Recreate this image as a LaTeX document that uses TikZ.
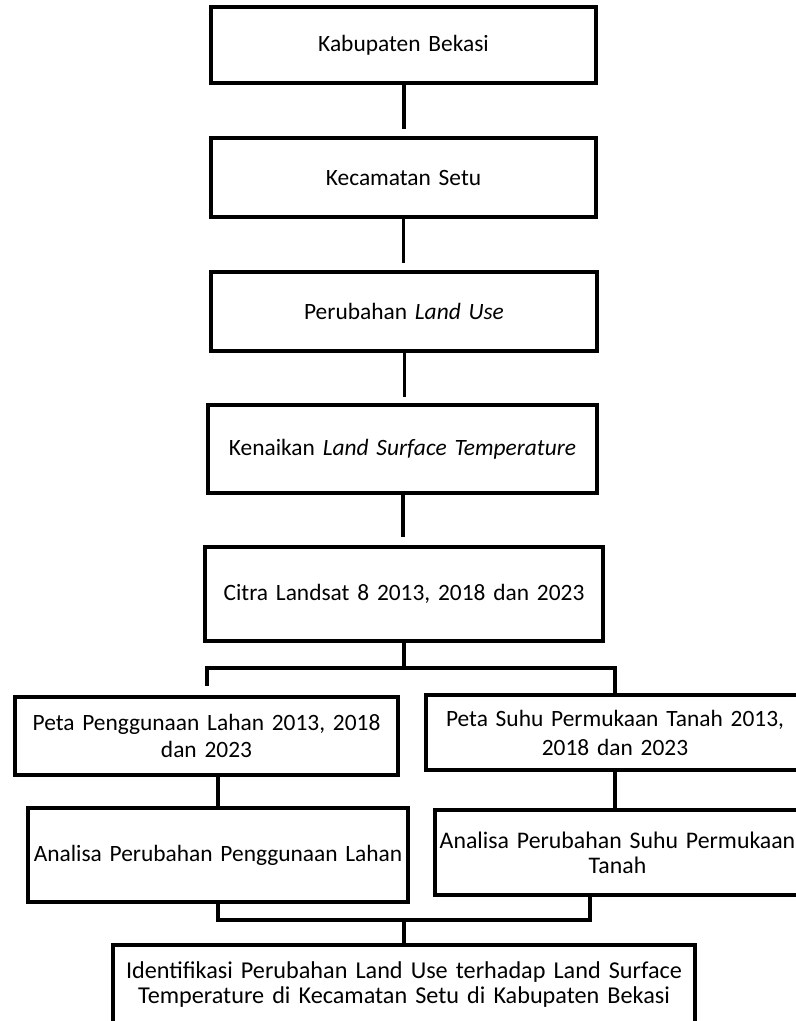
\documentclass[tikz,border=0pt]{standalone}
\usepackage{fontspec}
\setmainfont{Carlito}
\usetikzlibrary{positioning,calc}

\tikzset{
  blok/.style={draw, rectangle, line width=2pt, inner sep=0pt, align=center,
    font=\fontsize{11.7}{13.5}\selectfont},
  garis/.style={line width=2pt},
  tipis/.style={line width=1.5pt},
}

\begin{document}
\begin{tikzpicture}[x=0.5pt,y=-0.5pt]
\useasboundingbox (0,0) rectangle (796,1021);
\clip (0,0) rectangle (796,1021);

% main column
\node[blok, text width=192.5pt, minimum height=38pt] (kab) at (403.5,45) {Kabupaten Bekasi};
\node[blok, text width=192.5pt, minimum height=39.5pt] (kec) at (403.5,177.5) {Kecamatan Setu};
\node[blok, text width=193pt, minimum height=39.5pt] (landuse) at (404,311.5) {Perubahan \textit{Land Use}};
\node[blok, text width=194.5pt, minimum height=44pt] (lst) at (402.5,449) {Kenaikan \textit{Land Surface Temperature}};
\node[blok, text width=199pt, minimum height=47pt] (citra) at (404,594) {Citra Landsat 8 2013, 2018 dan 2023};

% two branches
\node[blok, text width=191.5pt, minimum height=39pt] (petaLahan) at (206.5,736) {Peta Penggunaan Lahan 2013, 2018\\dan 2023};
\node[blok, text width=189pt, minimum height=37.5pt, font=\fontsize{11.7}{14.5}\selectfont] (petaSuhu) at (615,732.5) {Peta Suhu Permukaan Tanah 2013,\\2018 dan 2023};
\node[blok, text width=190pt, minimum height=47pt] (anLahan) at (218,855) {Analisa Perubahan Penggunaan Lahan};
\node[blok, text width=182.5pt, minimum height=42.5pt, font=\fontsize{11.9}{12.5}\selectfont] (anSuhu) at (617.5,852.5) {Analisa Perubahan Suhu Permukaan\\Tanah};

% result
\node[blok, anchor=north, text width=291pt, inner ysep=8.5pt, font=\fontsize{12.1}{12.5}\selectfont] (ident) at (404,943) {Identifikasi Perubahan Land Use terhadap Land Surface\\Temperature di Kecamatan Setu di Kabupaten Bekasi};

\coordinate (cabang) at (404,668);
\coordinate (gabung) at (404,920);

% connectors
\draw[garis, shorten >=3.5pt] (kab) -- (kec);
\draw[tipis, shorten >=3.5pt] (kec.south) -- (kec.south |- landuse.north);
\draw[tipis, shorten >=3pt] (landuse.south) -- (landuse.south |- lst.north);
\draw[garis, shorten >=4pt] (lst.south) -- (lst.south |- citra.north);
\draw[garis] (citra.south) -- (cabang);
\draw[garis, shorten >=4.5pt] (cabang) -| (petaLahan.north);
\draw[garis] (cabang) -| (petaSuhu.north);
\draw[garis] (anLahan.north |- petaLahan.south) -- (anLahan.north);
\draw[garis] (petaSuhu.south) -- (petaSuhu.south |- anSuhu.north);
\draw[garis] (anLahan.south) |- (gabung);
\draw[garis] ([xshift=-13.75pt]anSuhu.south) |- (gabung);
\draw[garis] (gabung) -- (ident.north);
\end{tikzpicture}
\end{document}
